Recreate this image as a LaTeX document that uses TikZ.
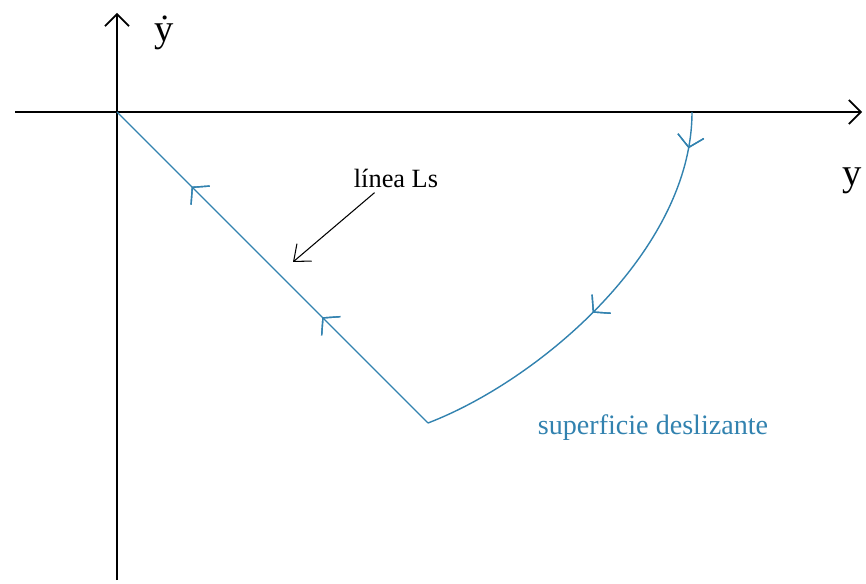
\documentclass[tikz,border=0pt]{standalone}
\usepackage{tikz}
\usepackage{amsmath}
\usepackage{xcolor}
\usepackage{fontspec}
\setmainfont{Liberation Serif}
\usetikzlibrary{arrows.meta,decorations.markings}

\definecolor{slide}{RGB}{50,130,175}

\begin{document}
\begin{tikzpicture}[x=0.02cm, y=-0.02cm,
    axis/.style={line width=1pt, -{Straight Barb[length=6.8pt,width=13.6pt]}},
    traj/.style={slide, line width=0.8pt},
    ptr/.style={line width=0.6pt, -{Straight Barb[length=8pt,width=13pt]}},
    lbl/.style={inner sep=0pt, font=\fontsize{15}{18}\selectfont},
    blbl/.style={inner sep=0pt, text=slide, font=\fontsize{16}{19}\selectfont},
    axlbl/.style={inner sep=0pt, anchor=base, font=\fontsize{22}{26}\selectfont},
    flow/.style={postaction={decorate}, decoration={markings,
        mark=at position #1 with {\arrow{Straight Barb[length=6.5pt,width=15pt]}}}}]
    \useasboundingbox (0,0) rectangle (866,584);

    % Axes
    \coordinate (O) at (117,112);
    \coordinate (ybot) at (117,580);
    \coordinate (ytop) at (117,13);
    \coordinate (xleft) at (15,112);
    \coordinate (xright) at (862,112);
    \draw[axis] (ybot) -- (ytop);
    \draw[axis] (xleft) -- (xright);
    \node[axlbl] (ydot) at (164,42) {\.{y}};
    \node[axlbl] (ylab) at (852,186) {y};

    % Trajectory
    \coordinate (A) at (692,112);
    \coordinate (B) at (428,423);
    \draw[traj, flow=0.085, flow=0.535] (A) .. controls (692,250) and (540,380) .. (B);
    \draw[traj, flow=0.34, flow=0.76] (B) -- (O);

    % Labels
    \node[lbl] (ls) at (396,178) {línea Ls};
    \coordinate (lsend) at (293,262);
    \draw[ptr] ([shift={(21,5)}]ls.south west) -- (lsend);
    \node[blbl] (sd) at (653,428) {superficie deslizante};
\end{tikzpicture}
\end{document}
